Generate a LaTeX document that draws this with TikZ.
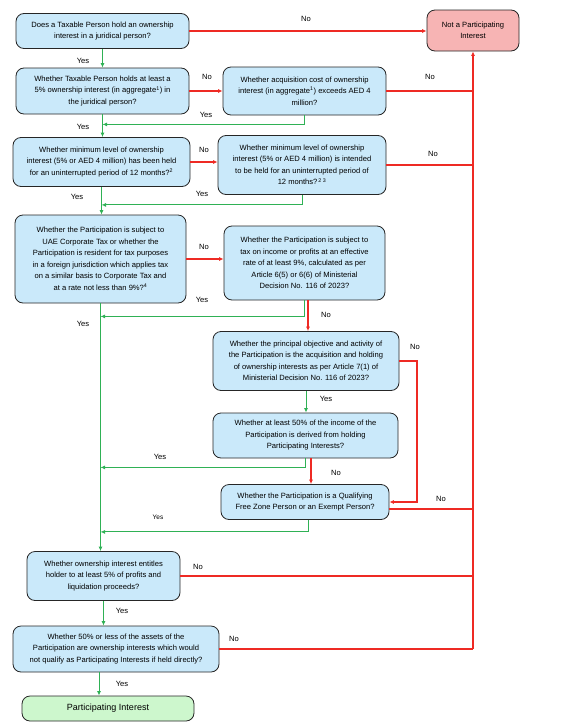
\documentclass[tikz,border=0pt]{standalone}
\usepackage{fontspec}
\setmainfont{Liberation Sans}
\usetikzlibrary{arrows.meta}
\definecolor{qblue}{HTML}{CAE9FA}
\definecolor{notpink}{HTML}{F7B4B4}
\definecolor{okgreen}{HTML}{CDF7CD}
\definecolor{yesgreen}{HTML}{2FB155}
\definecolor{nored}{HTML}{EE2A24}
\newcommand{\qfont}{\fontsize{7.6}{11.5}\selectfont}
\tikzset{
  qbox/.style={draw=black!85, line width=0.8pt, rounded corners=8pt, fill=qblue,
    align=center, inner sep=0pt, font=\qfont},
  endbox/.style={qbox, fill=#1},
  yesline/.style={color=yesgreen, line width=1pt, -{Latex[length=4.5pt,width=4pt]}},
  noline/.style={color=nored, line width=1.1pt, -{Latex[length=4.5pt,width=4pt]}},
  noplain/.style={color=nored, line width=1.1pt},
  lbl/.style={inner sep=0pt, font=\qfont}
}
\begin{document}
\begin{tikzpicture}[x=1pt,y=-1pt]
                \useasboundingbox (0,0) rectangle (572,723);
                % Drawing the question boxes
                \node [qbox, minimum width=173, minimum height=35] (own) at (102.5,31)
                  {Does a Taxable Person hold an ownership\\interest in a juridical person?};%
                \node [endbox=notpink, minimum width=92, minimum height=41] (notpi) at (473,30.5)
                  {Not a Participating\\Interest};%
                \node [qbox, minimum width=173, minimum height=46] (five) at (102.5,91)
                  {Whether Taxable Person holds at least a\\5\% ownership interest (in aggregate\textsuperscript{1}) in\\the juridical person?};%
                \node [qbox, minimum width=163, minimum height=48] (cost) at (304.5,91)
                  {Whether acquisition cost of ownership\\interest (in aggregate\textsuperscript{1}) exceeds AED 4\\million?};%
                \node [qbox, minimum width=177, minimum height=49] (held) at (101.5,162)
                  {Whether minimum level of ownership\\interest (5\% or AED 4 million) has been held\\for an uninterrupted period of 12 months?\textsuperscript{2}};%
                \node [qbox, minimum width=168, minimum height=59] (intend) at (302,165)
                  {Whether minimum level of ownership\\interest (5\% or AED 4 million) is intended\\to be held for an uninterrupted period of\\12 months?\textsuperscript{\,2 3}};%
                \node [qbox, minimum width=171, minimum height=88] (uaect) at (100.5,259)
                  {Whether the Participation is subject to\\UAE Corporate Tax or whether the\\Participation is resident for tax purposes\\in a foreign jurisdiction which applies tax\\on a similar basis to Corporate Tax and\\at a rate not less than 9\%?\textsuperscript{4}};%
                \node [qbox, minimum width=161, minimum height=74] (rate) at (304.5,263)
                  {Whether the Participation is subject to\\tax on income or profits at an effective\\rate of at least 9\%, calculated as per\\Article 6(5) or 6(6) of Ministerial\\Decision No. 116 of 2023?};%
                \node [qbox, minimum width=186, minimum height=59] (objective) at (306,361)
                  {Whether the principal objective and activity of\\the Participation is the acquisition and holding\\of ownership interests as per Article 7(1) of\\Ministerial Decision No. 116 of 2023?};%
                \node [qbox, minimum width=185, minimum height=45] (income) at (305.5,435.5)
                  {Whether at least 50\% of the income of the\\Participation is derived from holding\\Participating Interests?};%
                \node [qbox, minimum width=168, minimum height=35] (qfzp) at (305,502)
                  {Whether the Participation is a Qualifying\\Free Zone Person or an Exempt Person?};%
                \node [qbox, minimum width=153, minimum height=49] (profits) at (103.5,576)
                  {Whether ownership interest entitles\\holder to at least 5\% of profits and\\liquidation proceeds?};%
                \node [qbox, minimum width=206, minimum height=46] (assets) at (116,649)
                  {Whether 50\% or less of the assets of the\\Participation are ownership interests which would\\not qualify as Participating Interests if held directly?};%
                \node [endbox=okgreen, minimum width=172, minimum height=25, font=\fontsize{9}{11}\selectfont] (pi) at (108,708.5)
                  {Participating Interest};%

                % Drawing the red No bus
                \coordinate (busend) at (notpi.south |- assets.east);%
                \draw [noline] (busend) -- (notpi.south);%

                % Drawing the No connectors
                \draw [noline] (own.east) -- (own.east -| notpi.west);%
                \draw [noline] (five.east) -- (five.east -| cost.west);%
                \draw [noplain] (cost.east) -- (cost.east -| notpi.south);%
                \draw [noline] (held.east) -- (held.east -| intend.west);%
                \draw [noplain] (intend.east) -- (intend.east -| notpi.south);%
                \draw [noline] (uaect.east) -- (uaect.east -| rate.west);%
                \draw [noline] ([xshift=3.5pt]rate.south) -- ([xshift=3.5pt]rate.south |- objective.north);%
                \coordinate (objturn) at ([xshift=17.6pt]objective.east);%
                \draw [noline] (objective.east) -- (objturn) |- (qfzp.east);%
                \draw [noline] ([xshift=5.5pt]income.south) -- ([xshift=5.5pt]income.south |- qfzp.north);%
                \draw [noplain] ([yshift=-7pt]qfzp.east) -- ([yshift=-7pt]qfzp.east -| notpi.south);%
                \draw [noplain] (profits.east) -- (profits.east -| notpi.south);%
                \draw [noplain] (assets.east) -- (busend);%

                % Drawing the Yes connectors
                \draw [yesline] (own.south) -- (own.south |- five.north);%
                \draw [yesline] (five.south) -- (five.south |- held.north);%
                \coordinate (costyes) at ([yshift=-9pt]cost.south);%
                \draw [yesline] (cost.south) -- (costyes) -- (costyes -| five.south);%
                \draw [yesline] (held.south) -- (held.south |- uaect.north);%
                \coordinate (intendyes) at ([yshift=-10pt]intend.south);%
                \draw [yesline] (intend.south) -- (intendyes) -- (intendyes -| held.south);%
                \draw [yesline] (uaect.south) -- (uaect.south |- profits.north);%
                \coordinate (rateyes) at ([yshift=-16pt]rate.south);%
                \draw [yesline] (rate.south) -- (rateyes) -- (rateyes -| uaect.south);%
                \draw [yesline] (objective.south) -- (objective.south |- income.north);%
                \coordinate (incomeyes) at ([yshift=-9pt]income.south);%
                \draw [yesline] (income.south) -- (incomeyes) -- (incomeyes -| uaect.south);%
                \coordinate (qfzpyes) at ([xshift=3pt,yshift=-12pt]qfzp.south);%
                \draw [yesline] ([xshift=3pt]qfzp.south) -- (qfzpyes) -- (qfzpyes -| uaect.south);%
                \draw [yesline] (profits.south) -- (profits.south |- assets.north);%
                \draw [yesline] ([xshift=-17pt]assets.south) -- ([xshift=-17pt]assets.south |- pi.north);%

                % Marking the labels
                \node [lbl] (no1) at (306,19) {No};%
                \node [lbl] (yes1) at (83,61) {Yes};%
                \node [lbl] (no2) at (207,77) {No};%
                \node [lbl] (no3) at (430,77) {No};%
                \node [lbl] (yes2) at (206,115) {Yes};%
                \node [lbl] (yes3) at (83,127) {Yes};%
                \node [lbl] (no4) at (204,150) {No};%
                \node [lbl] (no5) at (433,154) {No};%
                \node [lbl] (yes4) at (77,197) {Yes};%
                \node [lbl] (yes5) at (202,194) {Yes};%
                \node [lbl] (no6) at (204,247) {No};%
                \node [lbl] (yes6) at (202,300) {Yes};%
                \node [lbl] (yes7) at (83,324) {Yes};%
                \node [lbl] (no7) at (326,315) {No};%
                \node [lbl] (no8) at (415,347) {No};%
                \node [lbl] (yes8) at (326,399) {Yes};%
                \node [lbl] (yes9) at (160,457) {Yes};%
                \node [lbl] (no9) at (336,473) {No};%
                \node [lbl] (no10) at (441,499) {No};%
                \node [lbl, font=\fontsize{6.5}{8}\selectfont] (yes10) at (158,517) {Yes};%
                \node [lbl] (no11) at (198,567) {No};%
                \node [lbl] (yes11) at (122,611) {Yes};%
                \node [lbl] (no12) at (234,639) {No};%
                \node [lbl] (yes12) at (122,684) {Yes};%
\end{tikzpicture}
\end{document}
